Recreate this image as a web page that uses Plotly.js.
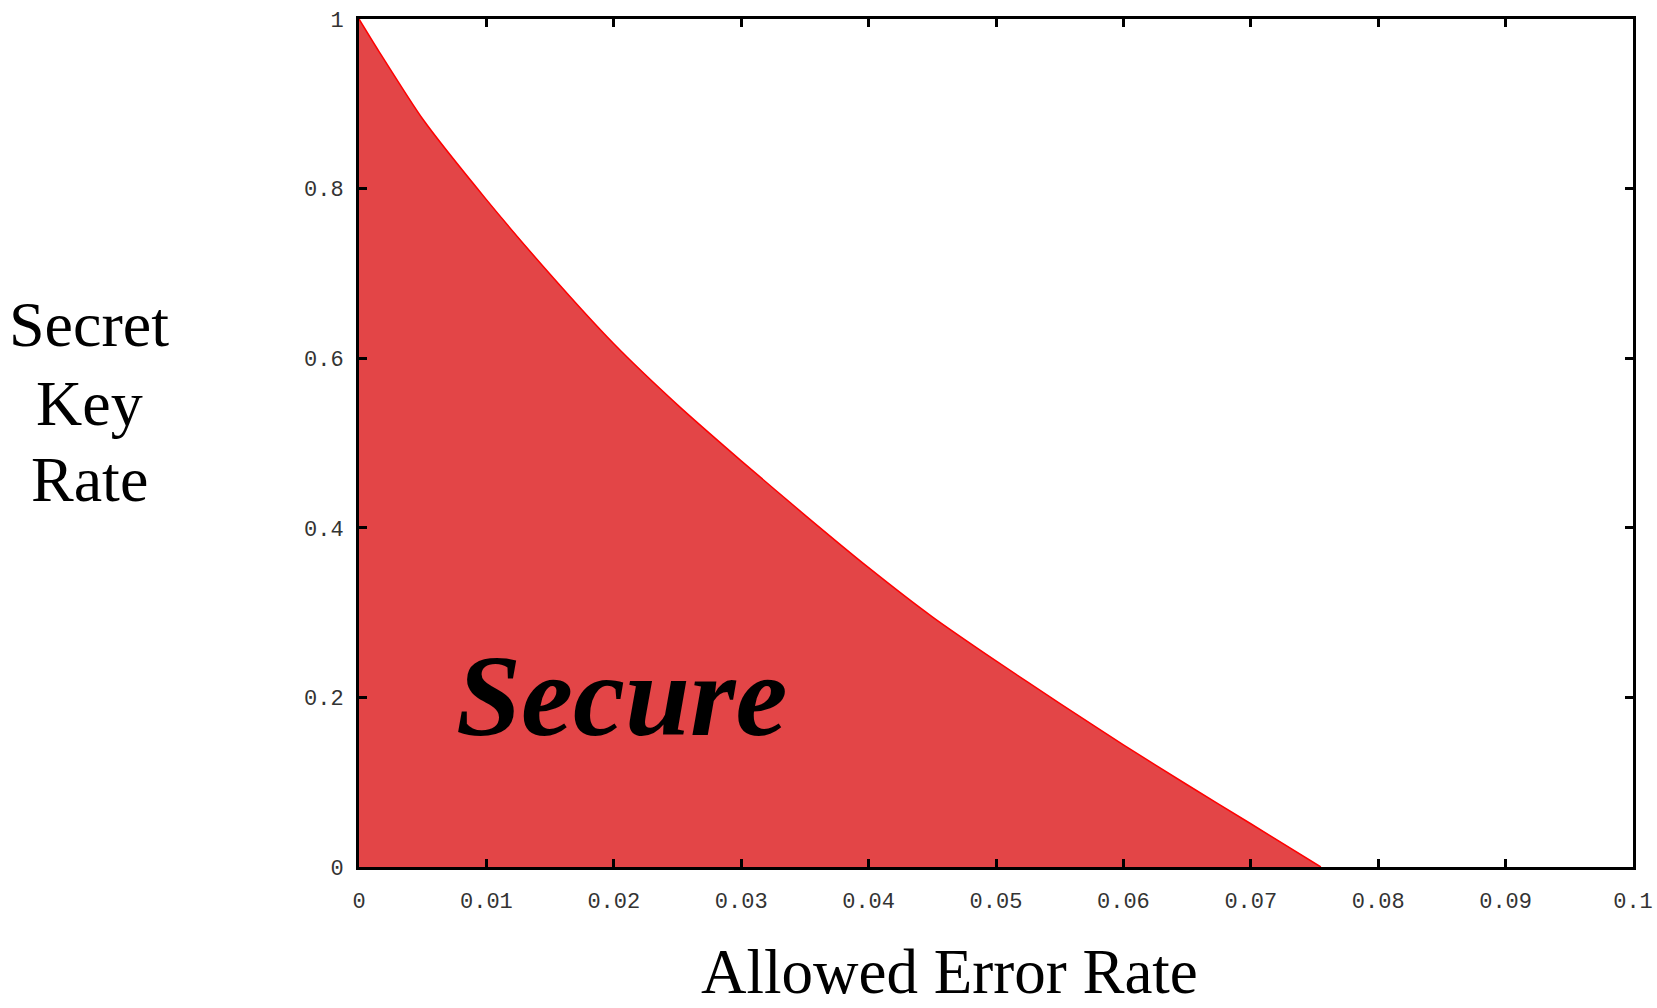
<!DOCTYPE html>
<html>
<head>
<meta charset="utf-8">
<script src="https://cdn.plot.ly/plotly-3.0.1.min.js"></script>
<style>
html,body{margin:0;padding:0;background:#fff;}
#chart{width:1657px;height:1008px;}
</style>
</head>
<body>
<div id="chart"></div>
<script>
// Data
const errorRate = [0, 0.0016, 0.005, 0.01, 0.015, 0.02, 0.025, 0.03, 0.035, 0.04, 0.045, 0.05, 0.055, 0.06, 0.065, 0.07, 0.0755];
const keyRate   = [1, 0.961, 0.882, 0.787, 0.699, 0.617, 0.545, 0.479, 0.415, 0.353, 0.295, 0.243, 0.193, 0.144, 0.097, 0.051, 0];
const xTicks = [0, 0.01, 0.02, 0.03, 0.04, 0.05, 0.06, 0.07, 0.08, 0.09, 0.1];
const xTickText = ["0", "0.01", "0.02", "0.03", "0.04", "0.05", "0.06", "0.07", "0.08", "0.09", "0.1"];
const yTicks = [0, 0.2, 0.4, 0.6, 0.8, 1];
const yTickText = ["0", "0.2", "0.4", "0.6", "0.8", "1"];
const yLabelLines = ["Secret", "Key", "Rate"];
const xLabel = "Allowed Error Rate";
const regionLabel = "Secure";

const serif = "Liberation Serif, Times New Roman, serif";
const mono = "Liberation Mono, DejaVu Sans Mono, monospace";

const trace = {
  x: errorRate, y: keyRate, type: 'scatter', mode: 'lines',
  fill: 'tozeroy', fillcolor: '#e34547',
  line: {color: '#ff0000', width: 1.5, shape: 'spline', smoothing: 0.6},
  hoverinfo: 'skip', showlegend: false
};

const axisCommon = {
  showgrid: false, zeroline: false,
  showline: true, linecolor: '#000', linewidth: 3,
  mirror: 'ticks', ticks: 'inside', ticklen: 8, tickwidth: 3, tickcolor: '#000',
  tickfont: {family: mono, size: 22, color: '#333'}
};

const annotations = [];
const lineYs = [325, 403, 479];
yLabelLines.forEach((t, i) => {
  annotations.push({
    text: t, showarrow: false, xref: 'paper', yref: 'paper',
    x: (89 - 359) / 1274, y: (867 - lineYs[i]) / 848,
    xanchor: 'center', yanchor: 'middle',
    font: {family: serif, size: 64, color: '#000'}
  });
});
annotations.push({
  text: xLabel, showarrow: false, xref: 'paper', yref: 'paper',
  x: (949 - 359) / 1274, y: (867 - 972) / 848,
  xanchor: 'center', yanchor: 'middle',
  font: {family: serif, size: 63, color: '#000'}
});
annotations.push({
  text: '<b><i>' + regionLabel + '</i></b>', showarrow: false, xref: 'x', yref: 'y',
  x: 0.02057, y: 0.2028, xanchor: 'center', yanchor: 'middle',
  font: {family: serif, size: 117, color: '#000'}
});

const layout = {
  width: 1657, height: 1008,
  margin: {l: 359, r: 24, t: 19, b: 141},
  paper_bgcolor: '#fff', plot_bgcolor: '#fff',
  xaxis: Object.assign({}, axisCommon, {
    range: [0, 0.1], tickvals: xTicks, ticktext: xTickText, ticklabelstandoff: 12
  }),
  yaxis: Object.assign({}, axisCommon, {
    range: [0, 1], tickvals: yTicks, ticktext: yTickText, ticklabelstandoff: 8
  }),
  annotations: annotations
};

Plotly.newPlot('chart', [trace], layout, {staticPlot: true, displayModeBar: false});
</script>
</body>
</html>
